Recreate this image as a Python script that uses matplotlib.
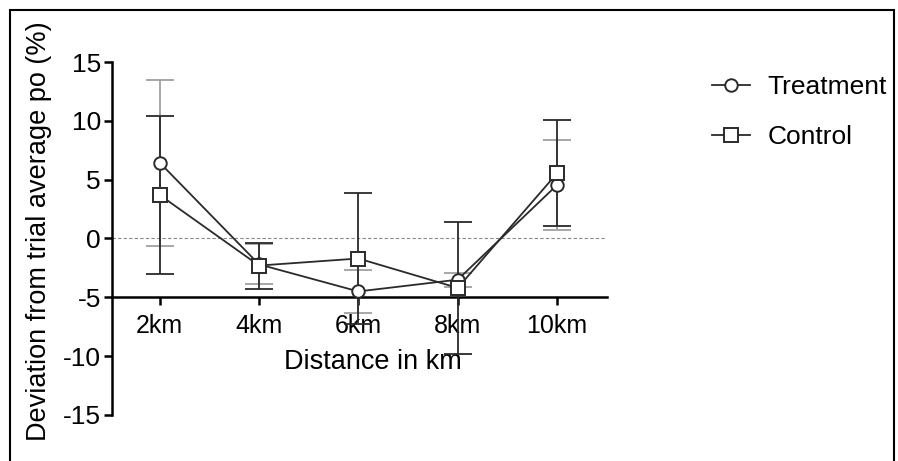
import matplotlib
matplotlib.use("Agg")
import matplotlib.pyplot as plt
from matplotlib.lines import Line2D
from matplotlib.patches import Rectangle

plt.rcParams['font.family'] = ['Liberation Sans', 'DejaVu Sans']

categories = ["2km", "4km", "6km", "8km", "10km"]
treatment = [6.45, -2.2, -4.5, -3.5, 4.55]
treatment_err = [7.05, 1.7, 1.8, 0.6, 3.85]
control = [3.7, -2.3, -1.7, -4.2, 5.55]
control_err = [6.7, 1.95, 5.6, 5.6, 4.5]
y_ticks = [-15, -10, -5, 0, 5, 10, 15]

fig = plt.figure(figsize=(8.98, 4.61), dpi=100)
ax = fig.add_axes([0.1247, 0.0998, 0.551, 0.7657])

x = list(range(1, len(categories) + 1))
line_col = '#2a2a2a'

ax.axhline(0, color='#888888', lw=0.8, ls=(0, (3, 2)), zorder=1)

ax.errorbar(x, treatment, yerr=treatment_err, fmt='none', ecolor='#a0a0a0',
            elinewidth=1.3, capsize=10, capthick=1.3, zorder=2)
ax.errorbar(x, control, yerr=control_err, fmt='none', ecolor='#2a2a2a',
            elinewidth=1.3, capsize=10, capthick=1.3, zorder=3)
ax.plot(x, treatment, color=line_col, lw=1.3, marker='o', ms=9,
        mfc='white', mec=line_col, mew=1.4, zorder=4)
ax.plot(x, control, color=line_col, lw=1.3, marker='s', ms=9.5,
        mfc='white', mec=line_col, mew=1.4, zorder=4)

ax.set_xlim(0.52, 5.5)
ax.set_ylim(-15, 15)
ax.set_yticks(y_ticks)
ax.set_yticklabels([str(v) for v in y_ticks])
ax.set_xticks(x)
ax.set_xticklabels(categories)

for s in ['top', 'right']:
    ax.spines[s].set_visible(False)
ax.spines['bottom'].set_position(('data', -5))
ax.spines['left'].set_linewidth(1.8)
ax.spines['bottom'].set_linewidth(1.8)
ax.tick_params(axis='both', direction='out', length=6, width=1.8,
               labelsize=19, colors='black')
ax.tick_params(axis='x', pad=6, labelsize=18)
ax.tick_params(axis='y', pad=2)

ax.set_xlabel("Distance in km", fontsize=19.5)
ax.xaxis.set_label_coords(0.527, 0.15)
ax.xaxis.label.set_va('center')
ax.set_ylabel("Deviation from trial average po (%)", fontsize=19.5)
ax.yaxis.set_label_coords(-0.148, 0.521)
ax.yaxis.label.set_va('center')

handles = [
    Line2D([], [], color=line_col, lw=1.3, marker='o', ms=9, mfc='white',
           mec=line_col, mew=1.4),
    Line2D([], [], color=line_col, lw=1.3, marker='s', ms=9.5, mfc='white',
           mec=line_col, mew=1.4),
]
fig.legend(handles, ["Treatment", "Control"], loc='upper left',
           bbox_to_anchor=(0.781, 0.86), frameon=False, fontsize=19,
           handlelength=1.45, handletextpad=0.65, labelspacing=1.0,
           borderaxespad=0)

fig.patches.append(Rectangle((10 / 898, -0.02), 884 / 898, 1 - 10 / 461 + 0.02,
                             transform=fig.transFigure, fill=False,
                             edgecolor='black', lw=1.5))

fig.savefig("out.png", dpi=100)
